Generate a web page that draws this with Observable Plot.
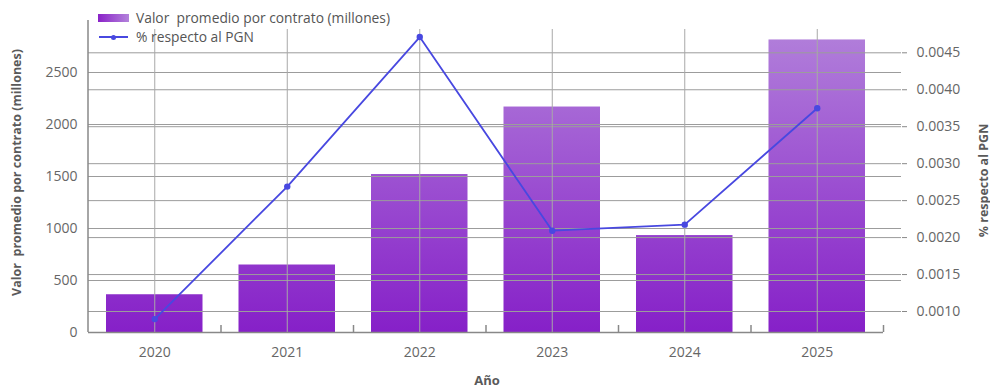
<!DOCTYPE html>
<html>
<head>
<meta charset="utf-8">
<script src="https://cdn.jsdelivr.net/npm/d3@7"></script>
<script src="https://cdn.jsdelivr.net/npm/@observablehq/plot@0.6"></script>
<style>
  body { margin: 0; background: #fff; font-family: "Open Sans", sans-serif; }
  #wrap { position: relative; width: 990px; height: 391px; }
  .leg { position: absolute; left: 0; top: 0; font-size: 13.8px; color: #555; white-space: pre; }
  .leg .row { position: absolute; left: 98px; height: 16px; width: 320px; }
  .leg .sw { position: absolute; left: 0; top: 4px; width: 31px; height: 8px;
             background: linear-gradient(to right, #8a22c8, #b383db); }
  .leg .ln { position: absolute; left: 1px; top: 7px; width: 29px; height: 2px; background: #4848e0; }
  .leg .dt { position: absolute; left: 13px; top: 5.5px; width: 5px; height: 5px; border-radius: 50%; background: #4848e0; }
  .leg .tx { position: absolute; left: 38px; top: 50%; transform: translateY(-50%); line-height: 16px; }
</style>
</head>
<body>
<div id="wrap"></div>
<script>
// ---- data ----
const years = ["2020", "2021", "2022", "2023", "2024", "2025"];
const valorPromedio = [363, 649, 1519, 2168, 932, 2813];
const pctPGN = [0.000897, 0.00269, 0.004713, 0.002093, 0.002175, 0.00375];
const leftTicks = [0, 500, 1000, 1500, 2000, 2500];
const rightTicks = [0.0010, 0.0015, 0.0020, 0.0025, 0.0030, 0.0035, 0.0040, 0.0045];
const leftDomain = [0, 3000];
const rightDomain = [0.000716, 0.004937];
const seriesNames = ["Valor  promedio por contrato (millones)", "% respecto al PGN"];
const yTitleLeft = "Valor  promedio por contrato (millones)";
const yTitleRight = "% respecto al PGN";
const xTitle = "Año";

// ---- helpers ----
const toLeft = v => (v - rightDomain[0]) / (rightDomain[1] - rightDomain[0]) * leftDomain[1];
const fromLeft = d => rightDomain[0] + d / leftDomain[1] * (rightDomain[1] - rightDomain[0]);
const data = years.map((y, i) => ({year: y, valor: valorPromedio[i], pct: pctPGN[i], pctL: toLeft(pctPGN[i])}));

const lineColor = "#4848e0";
const gridColor = "#9c9c9c";
const axisColor = "#888";

// defs (gradient)
const defsMark = (index, scales, values, dims) => {
  const g = d3.create("svg:g");
  const defs = g.append("defs");
  const lg = defs.append("linearGradient")
    .attr("id", "barGrad").attr("gradientUnits", "userSpaceOnUse")
    .attr("x1", 0).attr("x2", 0)
    .attr("y1", scales.y(leftDomain[0])).attr("y2", scales.y(leftDomain[1]));
  lg.append("stop").attr("offset", "0%").attr("stop-color", "#8620c8");
  lg.append("stop").attr("offset", "100%").attr("stop-color", "#b383db");
  return g.node();
};
// left axis line
const leftAxisLine = (index, scales, values, dims) => {
  const g = d3.create("svg:g");
  g.append("line")
    .attr("x1", dims.marginLeft).attr("x2", dims.marginLeft)
    .attr("y1", dims.marginTop).attr("y2", dims.height - dims.marginBottom)
    .attr("stroke", axisColor).attr("stroke-width", 1.5);
  return g.node();
};

const chart = Plot.plot({
  width: 990,
  height: 391,
  marginLeft: 88,
  marginRight: 89,
  marginTop: 20,
  marginBottom: 59,
  style: {fontFamily: "'Open Sans', sans-serif", fontSize: "14px", color: "#666", background: "#fff"},
  x: {type: "band", domain: years, range: [88, 883], padding: 0, round: false},
  y: {domain: leftDomain},
  marks: [
    defsMark,
    Plot.barY(data, {x: "year", y: "valor", fill: "url(#barGrad)", insetLeft: 18, insetRight: 18}),
    Plot.ruleY(leftTicks.filter(d => d > 0), {stroke: gridColor, strokeWidth: 1}),
    Plot.ruleY(rightTicks.map(toLeft), {stroke: gridColor, strokeWidth: 1}),
    Plot.ruleX(years, {stroke: "#a8a8a8", strokeWidth: 1, insetTop: 9}),
    Plot.ruleX(years, {stroke: axisColor, strokeWidth: 1.5, dx: 66.25, insetTop: 305}),
    Plot.ruleY([0], {stroke: axisColor, strokeWidth: 1.5, insetRight: 18}),
    leftAxisLine,
    Plot.axisY({ticks: leftTicks, tickSize: 0, tickPadding: 11, label: null, tickFormat: d3.format("d")}),
    Plot.axisY({anchor: "right", ticks: rightTicks.map(toLeft), tickSize: 5, tickPadding: 10,
                stroke: axisColor, label: null, tickFormat: d => d3.format(".4f")(fromLeft(d))}),
    Plot.axisX({tickSize: 0, tickPadding: 15, label: null}),
    Plot.line(data, {x: "year", y: "pctL", stroke: lineColor, strokeWidth: 1.8}),
    Plot.dot(data, {x: "year", y: "pctL", r: 3.2, fill: lineColor}),
    Plot.text([yTitleLeft], {frameAnchor: "left", textAnchor: "middle", dx: -72, dy: -4, rotate: -90,
                             fontWeight: "bold", fontSize: 12.5, fill: "#5a5a5a"}),
    Plot.text([yTitleRight], {frameAnchor: "right", textAnchor: "middle", dx: 82, dy: 4, rotate: -90,
                              fontWeight: "bold", fontSize: 12.5, fill: "#5a5a5a"}),
    Plot.text([xTitle], {frameAnchor: "bottom", dx: -8, dy: 52, fontWeight: "bold", fontSize: 13, fill: "#5a5a5a"})
  ]
});

const wrap = document.getElementById("wrap");
wrap.appendChild(chart);

const leg = document.createElement("div");
leg.className = "leg";
leg.innerHTML =
  `<div class="row" style="top:10px"><div class="sw"></div><div class="tx"></div></div>` +
  `<div class="row" style="top:29px"><div class="ln"></div><div class="dt"></div><div class="tx"></div></div>`;
const txs = leg.querySelectorAll(".tx");
txs[0].textContent = seriesNames[0];
txs[1].textContent = seriesNames[1];
wrap.appendChild(leg);
</script>
</body>
</html>
